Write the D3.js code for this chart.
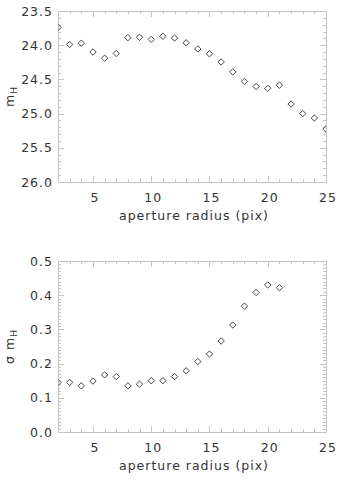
<!DOCTYPE html>
<html>
<head>
<meta charset="utf-8">
<script src="https://cdn.jsdelivr.net/npm/d3@7"></script>
<style>
	html, body { margin: 0; padding: 0; background: #fff; }
	svg { display: block; }
	.lbl { font-family: "DejaVu Sans", sans-serif; font-size: 12.5px; fill: #333; letter-spacing: 1px; }
</style>
</head>
<body>
<svg id="chart" width="345" height="484"></svg>
<script>
// aperture radius (pix)
var radius = [2, 3, 4, 5, 6, 7, 8, 9, 10, 11, 12, 13, 14, 15, 16, 17, 18, 19, 20, 21, 22, 23, 24, 25];
// magnitude per aperture
var magH = [23.74, 23.99, 23.97, 24.10, 24.19, 24.12, 23.89, 23.885, 23.915, 23.87, 23.895, 23.965,
	24.055, 24.125, 24.245, 24.39, 24.53, 24.605, 24.63, 24.585, 24.86, 25.0, 25.065, 25.225];
// magnitude error (radii 2..21 only)
var sigmaRadius = radius.slice(0, 20);
var sigmaH = [0.145, 0.145, 0.135, 0.149, 0.167, 0.162, 0.135, 0.140, 0.150, 0.150, 0.162, 0.179,
	0.206, 0.228, 0.266, 0.313, 0.368, 0.408, 0.430, 0.422];

var xTicks = [5, 10, 15, 20, 25];
var topTicks = [23.5, 24.0, 24.5, 25.0, 25.5, 26.0];
var bottomTicks = [0.0, 0.1, 0.2, 0.3, 0.4, 0.5];

var svg = d3.select("#chart");
var axisColor = "#c4c4c4";
var inkColor = "#333";

function drawPanel(cfg) {

	var x = d3.scaleLinear().domain([2, 25]).range([cfg.left, cfg.right]);
	var y = d3.scaleLinear().domain(cfg.yDomain).range([cfg.top, cfg.bottom]);

	var g = svg.append("g");

	var clipId = "clip" + cfg.id;
	g.append("clipPath").attr("id", clipId)
		.append("rect")
		.attr("x", cfg.left).attr("y", cfg.top)
		.attr("width", cfg.right - cfg.left).attr("height", cfg.bottom - cfg.top);

	// minor + major ticks, mirrored on all four sides (inward)
	var xMinor = d3.range(2, 25.001, 1);
	var yMinor = d3.range(0, Math.round((cfg.yMax - cfg.yMin) / cfg.yMinorStep) + 1)
		.map(function(i) { return cfg.yMin + i * cfg.yMinorStep; });

	var ticks = g.append("g").attr("stroke", axisColor).attr("stroke-width", 1);

	xMinor.forEach(function(v) {
		var len = (v % 5 === 0) ? 6 : 3;
		var px = Math.round(x(v)) + 0.5;
		ticks.append("line").attr("x1", px).attr("x2", px)
			.attr("y1", cfg.bottom).attr("y2", cfg.bottom - len);
		ticks.append("line").attr("x1", px).attr("x2", px)
			.attr("y1", cfg.top).attr("y2", cfg.top + len);
	});

	yMinor.forEach(function(v) {
		var major = cfg.yTicks.some(function(t) { return Math.abs(t - v) < 1e-6; });
		var len = major ? 6 : 3;
		var py = Math.round(y(v)) + 0.5;
		ticks.append("line").attr("x1", cfg.left).attr("x2", cfg.left + len)
			.attr("y1", py).attr("y2", py);
		ticks.append("line").attr("x1", cfg.right).attr("x2", cfg.right - len)
			.attr("y1", py).attr("y2", py);
	});

	// frame
	g.append("rect")
		.attr("x", cfg.left + 0.5).attr("y", cfg.top + 0.5)
		.attr("width", cfg.right - cfg.left).attr("height", cfg.bottom - cfg.top)
		.attr("fill", "none").attr("stroke", axisColor).attr("stroke-width", 1);

	// tick labels
	g.selectAll(".xl").data(xTicks).enter().append("text")
		.attr("class", "lbl")
		.attr("x", function(d) { return x(d) + 2; })
		.attr("y", cfg.bottom + 20)
		.attr("text-anchor", "middle")
		.text(function(d) { return d; });

	g.selectAll(".yl").data(cfg.yTicks).enter().append("text")
		.attr("class", "lbl")
		.attr("x", cfg.left - 5)
		.attr("y", function(d) { return y(d) + 4.5; })
		.attr("text-anchor", "end")
		.text(function(d) { return d.toFixed(1); });

	// axis titles
	g.append("text").attr("class", "lbl")
		.attr("x", (cfg.left + cfg.right) / 2 + 2)
		.attr("y", cfg.bottom + 38)
		.attr("text-anchor", "middle")
		.text("aperture radius (pix)");

	var yt = g.append("text").attr("class", "lbl")
		.attr("transform", "translate(14," + ((cfg.top + cfg.bottom) / 2) + ") rotate(-90)")
		.attr("text-anchor", "middle");
	yt.append("tspan").text(cfg.yTitle);
	yt.append("tspan").attr("dy", 3).attr("font-size", "9px").text("H");

	// diamond markers
	g.append("g").attr("clip-path", "url(#" + clipId + ")")
		.selectAll("path").data(cfg.xs).enter().append("path")
		.attr("d", d3.symbol().type(d3.symbolDiamond2).size(26))
		.attr("transform", function(d, i) {
			return "translate(" + x(d) + "," + y(cfg.ys[i]) + ")";
		})
		.attr("fill", "none")
		.attr("stroke", inkColor)
		.attr("stroke-width", 0.9);
}

drawPanel({
	id: "top", left: 58, right: 326, top: 11, bottom: 182,
	yDomain: [23.5, 26.0], yMin: 23.5, yMax: 26.0, yMinorStep: 0.1,
	yTicks: topTicks, yTitle: "m",
	xs: radius, ys: magH
});

drawPanel({
	id: "bottom", left: 58, right: 326, top: 261, bottom: 432,
	yDomain: [0.5, 0.0], yMin: 0.0, yMax: 0.5, yMinorStep: 0.01,
	yTicks: bottomTicks, yTitle: "σ m",
	xs: sigmaRadius, ys: sigmaH
});
</script>
</body>
</html>
